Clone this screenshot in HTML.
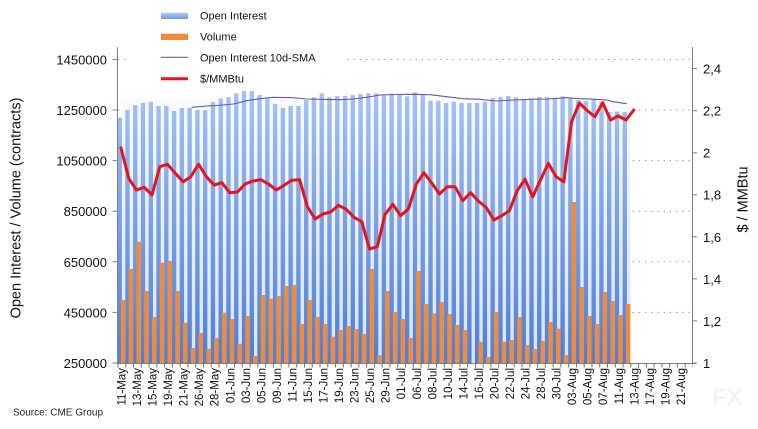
<!DOCTYPE html>
<html><head><meta charset="utf-8"><style>
html,body{margin:0;padding:0;background:#fff;}
svg{display:block;font-family:"Liberation Sans",Arial,sans-serif;}
</style></head><body>
<svg width="758" height="429" viewBox="0 0 758 429" xmlns="http://www.w3.org/2000/svg">
<defs>
<linearGradient id="gb" x1="0" y1="90" x2="0" y2="363" gradientUnits="userSpaceOnUse">
<stop offset="0" stop-color="#a6c3f3"/><stop offset="0.4" stop-color="#80a6e9"/><stop offset="1" stop-color="#4e7fd5"/>
</linearGradient>
<linearGradient id="gg" x1="0" y1="100" x2="0" y2="363" gradientUnits="userSpaceOnUse">
<stop offset="0" stop-color="#f8fbff"/><stop offset="0.5" stop-color="#e8eefa"/><stop offset="1" stop-color="#d8e3f6"/>
</linearGradient>
<linearGradient id="gl" x1="0" y1="0" x2="0" y2="1">
<stop offset="0" stop-color="#b3cdf5"/><stop offset="1" stop-color="#6e98e2"/>
</linearGradient>
<pattern id="xt" x="117.5" y="0" width="7.77" height="429" patternUnits="userSpaceOnUse">
<rect x="0" y="0" width="1" height="429" fill="#6f6f6f"/>
</pattern>
</defs>
<rect width="758" height="429" fill="#fff"/>

<!-- gridlines -->
<g stroke="#8c8c8c" stroke-width="1" stroke-dasharray="1.3 4.9">
<line x1="118" y1="59.4" x2="692" y2="59.4"/>
<line x1="118" y1="110" x2="692" y2="110"/>
<line x1="118" y1="160.6" x2="692" y2="160.6"/>
<line x1="118" y1="211.2" x2="692" y2="211.2"/>
<line x1="118" y1="261.8" x2="692" y2="261.8"/>
<line x1="118" y1="312.4" x2="692" y2="312.4"/>
</g>

<!-- watermark -->
<g opacity="0.10" fill="#555">
<circle cx="245" cy="285" r="36" fill="none" stroke="#555" stroke-width="9"/>
<text x="300" y="300" font-size="64" font-weight="bold" transform="rotate(-28 340 260)">WikiFX</text>
</g>

<!-- bars -->
<g transform="translate(117,0) scale(7.77,1)">
<rect x="0.6" y="100" width="65.5" height="263" fill="url(#gg)"/>
<g fill="url(#gb)">
<rect x="0.065" y="117.7" width="0.565" height="245.3"/>
<rect x="1.065" y="110" width="0.565" height="253"/>
<rect x="2.065" y="105.3" width="0.565" height="257.7"/>
<rect x="3.065" y="103" width="0.565" height="260"/>
<rect x="4.065" y="102" width="0.565" height="261"/>
<rect x="5.065" y="106" width="0.565" height="257"/>
<rect x="6.065" y="106" width="0.565" height="257"/>
<rect x="7.065" y="111" width="0.565" height="252"/>
<rect x="8.065" y="108" width="0.565" height="255"/>
<rect x="9.065" y="108" width="0.565" height="255"/>
<rect x="10.065" y="110" width="0.565" height="253"/>
<rect x="11.065" y="110" width="0.565" height="253"/>
<rect x="12.065" y="102" width="0.565" height="261"/>
<rect x="13.065" y="98.3" width="0.565" height="264.7"/>
<rect x="14.065" y="97.3" width="0.565" height="265.7"/>
<rect x="15.065" y="93.3" width="0.565" height="269.7"/>
<rect x="16.065" y="91" width="0.565" height="272"/>
<rect x="17.065" y="89.3" width="0.565" height="273.7"/>
<rect x="18.065" y="95" width="0.565" height="268"/>
<rect x="19.065" y="98.7" width="0.565" height="264.3"/>
<rect x="20.065" y="104" width="0.565" height="259"/>
<rect x="21.065" y="108" width="0.565" height="255"/>
<rect x="22.065" y="106" width="0.565" height="257"/>
<rect x="23.065" y="106" width="0.565" height="257"/>
<rect x="24.065" y="100" width="0.565" height="263"/>
<rect x="25.065" y="97.3" width="0.565" height="265.7"/>
<rect x="26.065" y="93.3" width="0.565" height="269.7"/>
<rect x="27.065" y="97.3" width="0.565" height="265.7"/>
<rect x="28.065" y="96" width="0.565" height="267"/>
<rect x="29.065" y="96" width="0.565" height="267"/>
<rect x="30.065" y="95" width="0.565" height="268"/>
<rect x="31.065" y="94" width="0.565" height="269"/>
<rect x="32.065" y="93.3" width="0.565" height="269.7"/>
<rect x="33.065" y="93.3" width="0.565" height="269.7"/>
<rect x="34.065" y="95.7" width="0.565" height="267.3"/>
<rect x="35.065" y="93.7" width="0.565" height="269.3"/>
<rect x="36.065" y="94.7" width="0.565" height="268.3"/>
<rect x="37.065" y="96.3" width="0.565" height="266.7"/>
<rect x="38.065" y="92.3" width="0.565" height="270.7"/>
<rect x="39.065" y="95" width="0.565" height="268"/>
<rect x="40.065" y="100.7" width="0.565" height="262.3"/>
<rect x="41.065" y="100.7" width="0.565" height="262.3"/>
<rect x="42.065" y="103" width="0.565" height="260"/>
<rect x="43.065" y="101.7" width="0.565" height="261.3"/>
<rect x="44.065" y="103" width="0.565" height="260"/>
<rect x="45.065" y="103" width="0.565" height="260"/>
<rect x="46.065" y="103" width="0.565" height="260"/>
<rect x="47.065" y="101.7" width="0.565" height="261.3"/>
<rect x="48.065" y="98" width="0.565" height="265"/>
<rect x="49.065" y="97" width="0.565" height="266"/>
<rect x="50.065" y="96" width="0.565" height="267"/>
<rect x="51.065" y="97.3" width="0.565" height="265.7"/>
<rect x="52.065" y="99" width="0.565" height="264"/>
<rect x="53.065" y="98.7" width="0.565" height="264.3"/>
<rect x="54.065" y="97" width="0.565" height="266"/>
<rect x="55.065" y="97.3" width="0.565" height="265.7"/>
<rect x="56.065" y="98" width="0.565" height="265"/>
<rect x="57.065" y="96.3" width="0.565" height="266.7"/>
<rect x="58.065" y="97.5" width="0.565" height="265.5"/>
<rect x="59.065" y="100" width="0.565" height="263"/>
<rect x="60.065" y="101" width="0.565" height="262"/>
<rect x="61.065" y="99.5" width="0.565" height="263.5"/>
<rect x="62.065" y="101.7" width="0.565" height="261.3"/>
<rect x="63.065" y="112" width="0.565" height="251"/>
<rect x="64.065" y="111.7" width="0.565" height="251.3"/>
<rect x="65.065" y="112" width="0.565" height="251"/>
</g>
<g fill="#f08a3c">
<rect x="0.5" y="300" width="0.57" height="63"/>
<rect x="1.5" y="269" width="0.57" height="94"/>
<rect x="2.5" y="241.7" width="0.57" height="121.3"/>
<rect x="3.5" y="291" width="0.57" height="72"/>
<rect x="4.5" y="317" width="0.57" height="46"/>
<rect x="5.5" y="262.7" width="0.57" height="100.3"/>
<rect x="6.5" y="261" width="0.57" height="102"/>
<rect x="7.5" y="291" width="0.57" height="72"/>
<rect x="8.5" y="322.7" width="0.57" height="40.3"/>
<rect x="9.5" y="348" width="0.57" height="15"/>
<rect x="10.5" y="333" width="0.57" height="30"/>
<rect x="11.5" y="348.7" width="0.57" height="14.3"/>
<rect x="12.5" y="338" width="0.57" height="25"/>
<rect x="13.5" y="312.7" width="0.57" height="50.3"/>
<rect x="14.5" y="319" width="0.57" height="44"/>
<rect x="15.5" y="343.7" width="0.57" height="19.3"/>
<rect x="16.5" y="316" width="0.57" height="47"/>
<rect x="17.5" y="356" width="0.57" height="7"/>
<rect x="18.5" y="295" width="0.57" height="68"/>
<rect x="19.5" y="298.7" width="0.57" height="64.3"/>
<rect x="20.5" y="296" width="0.57" height="67"/>
<rect x="21.5" y="286" width="0.57" height="77"/>
<rect x="22.5" y="285" width="0.57" height="78"/>
<rect x="23.5" y="324" width="0.57" height="39"/>
<rect x="24.5" y="300" width="0.57" height="63"/>
<rect x="25.5" y="317" width="0.57" height="46"/>
<rect x="26.5" y="324" width="0.57" height="39"/>
<rect x="27.5" y="336.7" width="0.57" height="26.3"/>
<rect x="28.5" y="330" width="0.57" height="33"/>
<rect x="29.5" y="326" width="0.57" height="37"/>
<rect x="30.5" y="329" width="0.57" height="34"/>
<rect x="31.5" y="334" width="0.57" height="29"/>
<rect x="32.5" y="269" width="0.57" height="94"/>
<rect x="33.5" y="355" width="0.57" height="8"/>
<rect x="34.5" y="291" width="0.57" height="72"/>
<rect x="35.5" y="312" width="0.57" height="51"/>
<rect x="36.5" y="319" width="0.57" height="44"/>
<rect x="37.5" y="338" width="0.57" height="25"/>
<rect x="38.5" y="271" width="0.57" height="92"/>
<rect x="39.5" y="304" width="0.57" height="59"/>
<rect x="40.5" y="313.3" width="0.57" height="49.7"/>
<rect x="41.5" y="302" width="0.57" height="61"/>
<rect x="42.5" y="314" width="0.57" height="49"/>
<rect x="43.5" y="325" width="0.57" height="38"/>
<rect x="44.5" y="330" width="0.57" height="33"/>
<rect x="46.5" y="341.7" width="0.57" height="21.3"/>
<rect x="47.5" y="357" width="0.57" height="6"/>
<rect x="48.5" y="312" width="0.57" height="51"/>
<rect x="49.5" y="341.7" width="0.57" height="21.3"/>
<rect x="50.5" y="340" width="0.57" height="23"/>
<rect x="51.5" y="317" width="0.57" height="46"/>
<rect x="52.5" y="345" width="0.57" height="18"/>
<rect x="53.5" y="349" width="0.57" height="14"/>
<rect x="54.5" y="341" width="0.57" height="22"/>
<rect x="55.5" y="322" width="0.57" height="41"/>
<rect x="56.5" y="328.7" width="0.57" height="34.3"/>
<rect x="57.5" y="355" width="0.57" height="8"/>
<rect x="58.5" y="202" width="0.57" height="161"/>
<rect x="59.5" y="287" width="0.57" height="76"/>
<rect x="60.5" y="316" width="0.57" height="47"/>
<rect x="61.5" y="324" width="0.57" height="39"/>
<rect x="62.5" y="292" width="0.57" height="71"/>
<rect x="63.5" y="301" width="0.57" height="62"/>
<rect x="64.5" y="315" width="0.57" height="48"/>
<rect x="65.5" y="304" width="0.57" height="59"/>
</g>
</g>

<!-- SMA line -->
<polyline fill="none" stroke="#6b5a98" stroke-width="1.1" points="191.7,107.3 206.7,106 220,105.3 233.3,104 246.7,100.7 260,98.7 273.3,97.3 293.3,97.7 306.7,99 320,99.3 340,99.7 353.3,99 366.7,97.3 380,95 396,94.5 413.3,94.3 430,94.7 446.7,96.7 463,98.7 480,99.3 496.7,101 513,100 530,99.3 546.7,99 566.7,97.7 580,98.7 596.7,99.3 606.7,100 613,101.7 626.7,103.7"/>

<!-- price line -->
<polyline fill="none" stroke="#e8141b" stroke-width="3" stroke-linejoin="round" stroke-linecap="round" points="120.9,147.7 128.7,178.3 136.4,190 144.2,187.3 152,195 159.8,166.7 167.5,164.3 175.3,173.3 183.1,181.7 190.8,176.7 198.6,164.3 206.4,176.7 214.1,185 221.9,182.7 229.7,192.7 237.5,192 245.2,184 253,181 260.8,179.7 268.5,184 276.3,190 284.1,185.3 291.8,180.3 299.6,179.7 307.4,206.7 315.1,219 322.9,214 330.7,212 338.5,205.3 346.2,209.3 354,217.3 361.8,221.7 369.5,249 377.3,246.7 385.1,214.3 392.9,204.3 400.6,215.7 408.4,209 416.2,184.3 423.9,172.7 431.7,183 439.5,194 447.3,186.7 455,186.7 462.8,200.7 470.6,192.7 478.3,201 486.1,207.3 493.9,220 501.7,215.7 509.4,210.7 517.2,190.7 525,179.3 532.7,196.7 540.5,180 548.3,163.3 556.1,176.7 563.8,181.7 571.6,121.7 579.4,103 587.1,110.5 594.9,116.7 602.7,102.7 610.5,120 618.2,116 626,120 633.8,110"/>

<!-- axes -->
<g stroke="#7f7f7f" stroke-width="1" fill="none">
<line x1="117.5" y1="47" x2="117.5" y2="363.5"/>
<line x1="692.5" y1="47" x2="692.5" y2="363.5"/>
<line x1="117" y1="363.5" x2="696" y2="363.5"/>
<path d="M112.5 59.4H117.5M112.5 110H117.5M112.5 160.6H117.5M112.5 211.2H117.5M112.5 261.8H117.5M112.5 312.4H117.5M112.5 363H117.5"/>
<path d="M692.5 68.5H697M692.5 110.6H697M692.5 152.7H697M692.5 194.7H697M692.5 236.8H697M692.5 278.9H697M692.5 320.9H697M692.5 363H697"/>
</g>
<rect x="117" y="363" width="576" height="4.5" fill="url(#xt)"/>

<!-- legend -->
<rect x="128" y="4" width="217" height="87" fill="#fff"/>
<rect x="161" y="12.7" width="27" height="6.3" fill="url(#gl)"/>
<rect x="161" y="33.7" width="27" height="6.3" fill="#f08a3c"/>
<line x1="161" y1="57.3" x2="188" y2="57.3" stroke="#6b5a98" stroke-width="1.1"/>
<line x1="161" y1="78.7" x2="188" y2="78.7" stroke="#e8141b" stroke-width="3"/>
<g font-size="11" fill="#111">
<text x="200" y="19.3">Open Interest</text>
<text x="200" y="40.3">Volume</text>
<text x="200" y="61.3">Open Interest 10d-SMA</text>
<text x="200" y="82.3">$/MMBtu</text>
</g>

<!-- left tick labels -->
<g font-size="13" fill="#111" text-anchor="end">
<text x="107" y="64.4">1450000</text>
<text x="107" y="115">1250000</text>
<text x="107" y="165.6">1050000</text>
<text x="107" y="216.2">850000</text>
<text x="107" y="266.8">650000</text>
<text x="107" y="317.4">450000</text>
<text x="107" y="368">250000</text>
</g>
<!-- right tick labels -->
<g font-size="13" fill="#111">
<text x="703" y="73.5">2,4</text>
<text x="703" y="115.6">2,2</text>
<text x="703" y="157.7">2</text>
<text x="703" y="199.7">1,8</text>
<text x="703" y="241.8">1,6</text>
<text x="703" y="283.9">1,4</text>
<text x="703" y="325.9">1,2</text>
<text x="703" y="368">1</text>
</g>

<!-- axis titles -->
<text transform="translate(20.5,208) rotate(-90)" font-size="14.5" fill="#111" text-anchor="middle">Open Interest / Volume (contracts)</text>
<text transform="translate(747.5,199.5) rotate(-90)" font-size="14.5" fill="#111" text-anchor="middle">$ / MMBtu</text>

<!-- x labels -->
<g font-size="11.5" fill="#111" text-anchor="end">
<text transform="translate(125.5,368) rotate(-90)">11-May</text>
<text transform="translate(141.04,368) rotate(-90)">13-May</text>
<text transform="translate(156.58,368) rotate(-90)">15-May</text>
<text transform="translate(172.12,368) rotate(-90)">19-May</text>
<text transform="translate(187.66,368) rotate(-90)">21-May</text>
<text transform="translate(203.2,368) rotate(-90)">26-May</text>
<text transform="translate(218.74,368) rotate(-90)">28-May</text>
<text transform="translate(234.28,368) rotate(-90)">01-Jun</text>
<text transform="translate(249.82,368) rotate(-90)">03-Jun</text>
<text transform="translate(265.36,368) rotate(-90)">05-Jun</text>
<text transform="translate(280.9,368) rotate(-90)">09-Jun</text>
<text transform="translate(296.44,368) rotate(-90)">11-Jun</text>
<text transform="translate(311.98,368) rotate(-90)">15-Jun</text>
<text transform="translate(327.52,368) rotate(-90)">17-Jun</text>
<text transform="translate(343.06,368) rotate(-90)">19-Jun</text>
<text transform="translate(358.6,368) rotate(-90)">23-Jun</text>
<text transform="translate(374.14,368) rotate(-90)">25-Jun</text>
<text transform="translate(389.68,368) rotate(-90)">29-Jun</text>
<text transform="translate(405.22,368) rotate(-90)">01-Jul</text>
<text transform="translate(420.76,368) rotate(-90)">06-Jul</text>
<text transform="translate(436.3,368) rotate(-90)">08-Jul</text>
<text transform="translate(451.84,368) rotate(-90)">10-Jul</text>
<text transform="translate(467.38,368) rotate(-90)">14-Jul</text>
<text transform="translate(482.92,368) rotate(-90)">16-Jul</text>
<text transform="translate(498.46,368) rotate(-90)">20-Jul</text>
<text transform="translate(514,368) rotate(-90)">22-Jul</text>
<text transform="translate(529.54,368) rotate(-90)">24-Jul</text>
<text transform="translate(545.08,368) rotate(-90)">28-Jul</text>
<text transform="translate(560.62,368) rotate(-90)">30-Jul</text>
<text transform="translate(576.16,368) rotate(-90)">03-Aug</text>
<text transform="translate(591.7,368) rotate(-90)">05-Aug</text>
<text transform="translate(607.24,368) rotate(-90)">07-Aug</text>
<text transform="translate(622.78,368) rotate(-90)">11-Aug</text>
<text transform="translate(638.32,368) rotate(-90)">13-Aug</text>
<text transform="translate(653.86,368) rotate(-90)">17-Aug</text>
<text transform="translate(669.4,368) rotate(-90)">19-Aug</text>
<text transform="translate(684.94,368) rotate(-90)">21-Aug</text>
</g>

<text x="712" y="405" font-size="24" font-weight="bold" fill="#f3f3f3">FX</text>
<text x="13" y="415.5" font-size="10" fill="#222">Source: CME Group</text>
</svg>
</body></html>
